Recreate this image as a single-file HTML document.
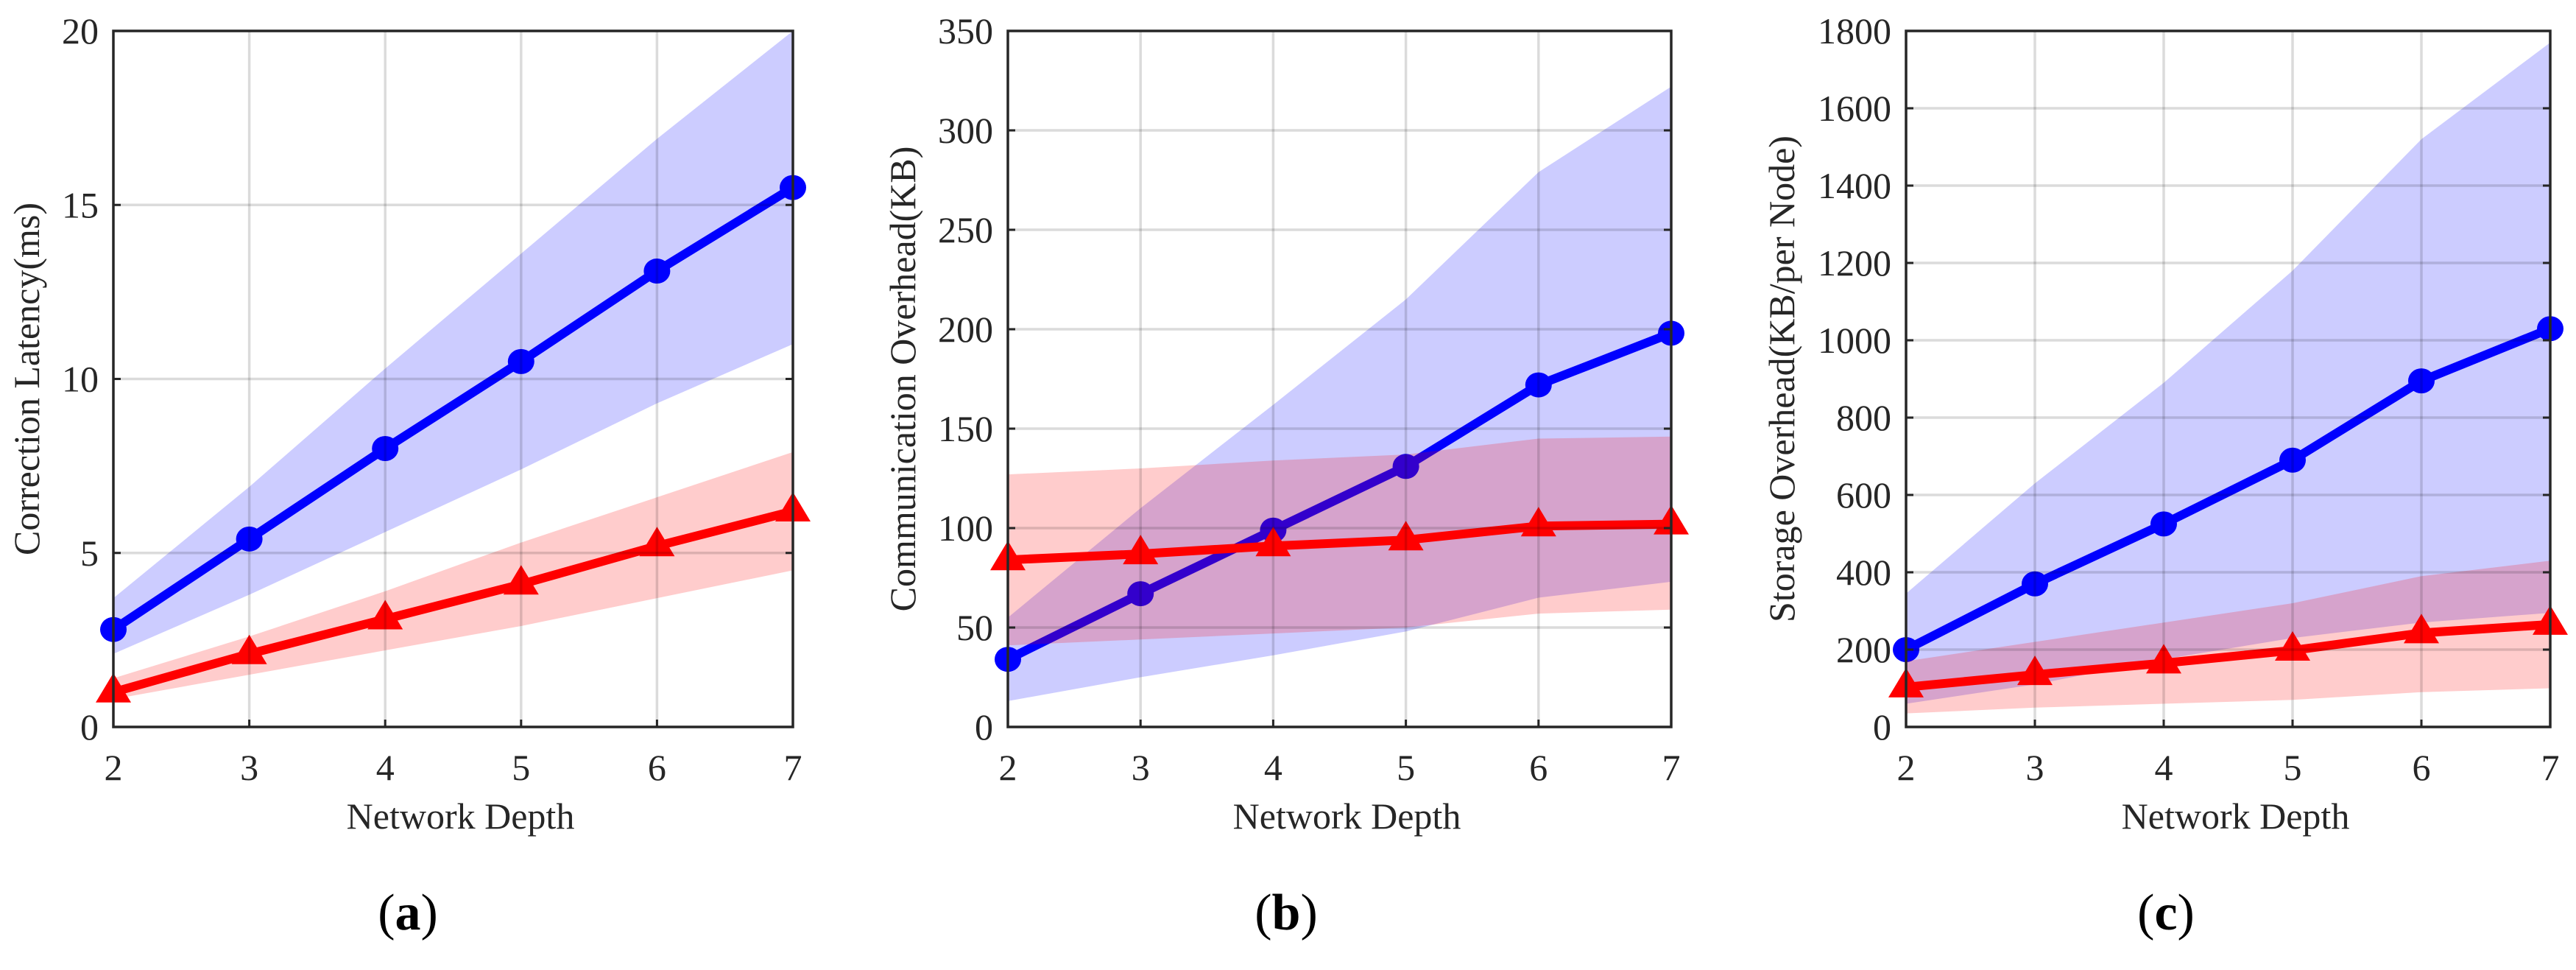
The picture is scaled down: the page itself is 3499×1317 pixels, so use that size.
<!DOCTYPE html>
<html><head><meta charset="utf-8"><style>
html,body{margin:0;padding:0;background:#fff;}
svg{display:block;font-family:"Liberation Serif",serif;}
</style></head><body>
<svg id="fig" width="3499" height="1317" viewBox="0 0 3499 1317" xmlns="http://www.w3.org/2000/svg"></svg>
<script>
const categories = [2, 3, 4, 5, 6, 7];
// panel a
const aBlue = [2.8, 5.4, 8.0, 10.5, 13.1, 15.5];
const aBlueHi = [3.7, 6.9, 10.3, 13.6, 16.9, 20.0];
const aBlueLo = [2.1, 3.8, 5.6, 7.4, 9.3, 11.0];
const aRed = [1.0, 2.1, 3.1, 4.1, 5.2, 6.2];
const aRedHi = [1.4, 2.6, 3.9, 5.3, 6.6, 7.9];
const aRedLo = [0.8, 1.5, 2.2, 2.9, 3.7, 4.5];
const aTicks = [0, 5, 10, 15, 20];
// panel b
const bBlue = [34, 67, 99, 131, 172, 198];
const bBlueHi = [55, 110, 162, 215, 279, 322];
const bBlueLo = [13, 25, 36, 48, 65, 73];
const bRed = [84, 87, 91, 94, 101, 102];
const bRedHi = [127, 130, 134, 137, 145, 146];
const bRedLo = [41, 44, 47, 50, 57, 59];
const bTicks = [0, 50, 100, 150, 200, 250, 300, 350];
// panel c
const cBlue = [200, 370, 525, 690, 895, 1030];
const cBlueHi = [345, 630, 890, 1180, 1520, 1770];
const cBlueLo = [60, 110, 175, 230, 270, 295];
const cRed = [103, 135, 165, 198, 243, 265];
const cRedHi = [170, 220, 270, 320, 390, 430];
const cRedLo = [35, 50, 60, 70, 90, 100];
const cTicks = [0, 200, 400, 600, 800, 1000, 1200, 1400, 1600, 1800];

const NS = "http://www.w3.org/2000/svg";
const svg = document.getElementById('fig');
function mk(tag, attrs, parent){const e=document.createElementNS(NS,tag);for(const k in attrs)e.setAttribute(k,attrs[k]);(parent||svg).appendChild(e);return e;}

const panels = [
 {id:'a',L:154,R:1077,ymax:20,ticks:aTicks,title:'Correction Latency(ms)',tx:36,b:aBlue,bh:aBlueHi,bl:aBlueLo,r:aRed,rh:aRedHi,rl:aRedLo,lx:554},
 {id:'b',L:1369,R:2270,ymax:350,ticks:bTicks,title:'Communication Overhead(KB)',tx:1226,b:bBlue,bh:bBlueHi,bl:bBlueLo,r:bRed,rh:bRedHi,rl:bRedLo,lx:1747},
 {id:'c',L:2589,R:3464,ymax:1800,ticks:cTicks,title:'Storage Overhead(KB/per Node)',tx:2420,b:cBlue,bh:cBlueHi,bl:cBlueLo,r:cRed,rh:cRedHi,rl:cRedLo,lx:2942}
];
const T=42, B=987, FS=50;

panels.forEach(p=>{
  const g=mk('g',{});
  
  
  const xs=v=>p.L+(v-2)/5*(p.R-p.L);
  const ys=v=>B-v/p.ymax*(B-T);
  const band=(hi,lo,color,name)=>{
    let d='M'+categories.map((c,i)=>xs(c)+','+ys(hi[i])).join('L');
    d+='L'+categories.slice().reverse().map((c,j)=>{const i=categories.length-1-j;return xs(c)+','+ys(lo[i]);}).join('L')+'Z';
    const e=mk('path',{d:d,fill:color,'fill-opacity':0.2,stroke:'none'},g);
    
    
  };
  const line=(vals,color,name,marker)=>{
    const e=mk('polyline',{points:categories.map((c,i)=>xs(c)+','+ys(vals[i])).join(' '),fill:'none',stroke:color,'stroke-width':12,'stroke-linejoin':'round'},g);
    
    
    categories.forEach((c,i)=>{
      const x=xs(c),y=ys(vals[i]);let m;
      if(marker==='circle') m=mk('ellipse',{cx:x,cy:y,rx:18,ry:17,fill:color},g);
      else m=mk('polygon',{points:(x)+','+(y-26)+' '+(x-24)+','+(y+14)+' '+(x+24)+','+(y+14),fill:color},g);
      
      
    });
  };
  band(p.bh,p.bl,'#0000ff','blue-band');
  line(p.b,'#0000ff','blue-series','circle');
  band(p.rh,p.rl,'#ff0000','red-band');
  line(p.r,'#ff0000','red-series','tri');
  p.ticks.forEach(t=>{
    const y=ys(t);
    if(t>0&&t<p.ymax){const gl=mk('line',{x1:p.L,x2:p.R,y1:y,y2:y,stroke:'#000','stroke-opacity':0.14,'stroke-width':3.5},g);
    }
    const tk=mk('line',{x1:p.L,x2:p.L+10,y1:y,y2:y,stroke:'#262626','stroke-width':3},g);
    
    const tk2=mk('line',{x1:p.R-10,x2:p.R,y1:y,y2:y,stroke:'#262626','stroke-width':3},g);
    
    const tl=mk('text',{x:p.L-20,y:y+17,'text-anchor':'end','font-size':FS,fill:'#262626'},g);
    tl.textContent=t;
    
  });
  categories.forEach(c=>{
    const x=xs(c);
    if(c>2&&c<7){const gl=mk('line',{x1:x,x2:x,y1:T,y2:B,stroke:'#000','stroke-opacity':0.14,'stroke-width':3.5},g);
    }
    const tk=mk('line',{x1:x,x2:x,y1:B-10,y2:B,stroke:'#262626','stroke-width':3},g);
    
    const tl=mk('text',{x:x,y:1059,'text-anchor':'middle','font-size':FS,fill:'#262626'},g);
    tl.textContent=c;
    
  });
  const fr=mk('rect',{x:p.L,y:T,width:p.R-p.L,height:B-T,fill:'none',stroke:'#262626','stroke-width':3.5},g);
  
  const xt=mk('text',{x:(p.L+p.R)/2+10,y:1125,'text-anchor':'middle','font-size':FS,fill:'#262626'},g);
  xt.textContent='Network Depth';
  
  const yt=mk('text',{x:0,y:0,'text-anchor':'middle','font-size':FS,fill:'#262626',transform:'translate('+(p.tx+17)+','+((T+B)/2)+') rotate(-90)'},g);
  yt.textContent=p.title;
  
  const lb=mk('text',{x:p.lx,y:1262,'text-anchor':'middle','font-size':70,fill:'#000'},g);
  lb.innerHTML='(<tspan font-weight="bold">'+p.id+'</tspan>)';
  
});
</script>
</body></html>
